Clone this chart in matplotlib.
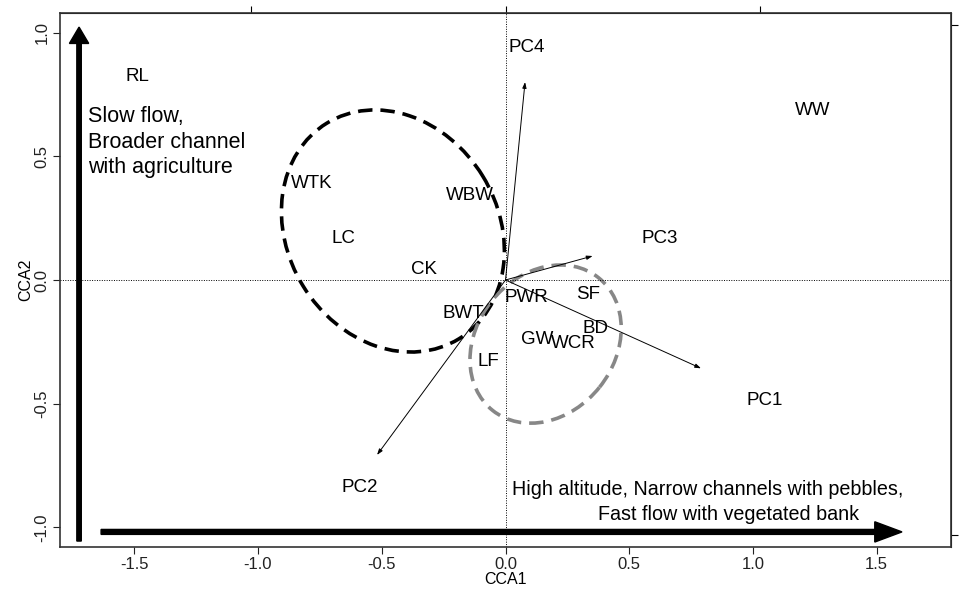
import matplotlib
matplotlib.use("Agg")
import matplotlib.pyplot as plt
from matplotlib.patches import Ellipse, FancyArrow

plt.rcParams['font.family'] = ['Liberation Sans', 'DejaVu Sans']

# Site scores (labels)
site_names = ["RL", "WW", "WTK", "WBW", "LC", "CK", "PWR", "SF", "BWT", "BD", "GW", "WCR", "LF"]
site_x = [-1.489, 1.242, -0.782, -0.144, -0.653, -0.329, 0.083, 0.333, -0.172, 0.362, 0.127, 0.273, -0.07]
site_y = [0.824, 0.683, 0.388, 0.343, 0.166, 0.044, -0.069, -0.057, -0.134, -0.198, -0.24, -0.255, -0.33]

# Environmental vectors
vec_names = ["PC1", "PC2", "PC3", "PC4"]
vec_x = [0.79, -0.519, 0.352, 0.079]
vec_y = [-0.357, -0.707, 0.097, 0.80]
vec_lab_x = [1.048, -0.588, 0.624, 0.087]
vec_lab_y = [-0.485, -0.84, 0.166, 0.941]

# Group ellipses: center x, center y, full width, full height, angle
ell_black = (-0.455, 0.198, 1.022, 0.851, 121.5)
ell_gray = (0.162, -0.259, 0.686, 0.558, 51.4)

xticks = [-1.5, -1.0, -0.5, 0.0, 0.5, 1.0, 1.5]
yticks = [-1.0, -0.5, 0.0, 0.5, 1.0]

left_note = ["Slow flow,", "Broader channel", "with agriculture"]
bottom_note = ["High altitude, Narrow channels with pebbles,", "Fast flow with vegetated bank"]

W, H = 959, 589
fig = plt.figure(figsize=(W / 100, H / 100), dpi=100)
ax = fig.add_axes([60 / W, (H - 547) / H, (951 - 60) / W, (547 - 13) / H])
ax.set_xlim(-1.80, 1.80)
ax.set_ylim(-1.079, 1.079)

# reference lines
ax.axhline(0, color='black', lw=0.7, ls=(0, (1, 1.5)))
ax.axvline(0, color='black', lw=0.7, ls=(0, (1, 1.5)))

# vectors
for x, y in zip(vec_x, vec_y):
    ax.annotate("", xy=(x, y), xytext=(0, 0),
                arrowprops=dict(arrowstyle="-|>,head_length=0.35,head_width=0.12",
                                color='black', lw=0.7, shrinkA=0, shrinkB=0))

# ellipses
cx, cy, w, h, a = ell_black
ax.add_patch(Ellipse((cx, cy), w, h, angle=a, fill=False, ec='black', lw=2.6,
                     ls=(0, (4, 2.2))))
cx, cy, w, h, a = ell_gray
ax.add_patch(Ellipse((cx, cy), w, h, angle=a, fill=False, ec='#878787', lw=2.6,
                     ls=(0, (4, 2.2))))

# labels
for n, x, y in zip(site_names, site_x, site_y):
    ax.text(x, y, n, ha='center', va='center', fontsize=13.5)
for n, x, y in zip(vec_names, vec_lab_x, vec_lab_y):
    ax.text(x, y, n, ha='center', va='center', fontsize=13.5)

# big gradient arrows
ax.add_patch(FancyArrow(-1.723, -1.055, 0, 2.077, width=0.018, head_width=0.078,
                        head_length=0.066, length_includes_head=True, color='black'))
ax.add_patch(FancyArrow(-1.634, -1.018, 3.236, 0, width=0.02, head_width=0.082,
                        head_length=0.11, length_includes_head=True, color='black'))

for txt, yy in zip(left_note, [0.659, 0.554, 0.453]):
    ax.text(-1.687, yy, txt, ha='left', va='center', fontsize=15.5)
for txt, xx, yy in zip(bottom_note, [0.818, 0.9], [-0.848, -0.949]):
    ax.text(xx, yy, txt, ha='center', va='center', fontsize=14.2)

ax.set_xticks(xticks)
ax.set_xticklabels([f"{t:.1f}" for t in xticks])
ax.set_yticks(yticks)
ax.set_yticklabels([f"{t:.1f}" for t in yticks], rotation=90, va='center')
ax.tick_params(direction='out', length=5, width=0.8, labelsize=12, colors='#222222', pad=2.5)
ax.set_xlabel("CCA1", fontsize=11.5, labelpad=0)
ax.set_ylabel("CCA2", fontsize=11.5, labelpad=1)
for s in ax.spines.values():
    s.set_linewidth(1.2)
    s.set_color('#333333')

k = 1.029
sx = ax.secondary_xaxis('top', functions=(lambda v: v / k, lambda v: v * k))
sx.set_xticks([-1, 0, 1])
sx.set_xticklabels([])
sx.tick_params(direction='out', length=5, width=0.8)
sy = ax.secondary_yaxis('right', functions=(lambda v: v / k, lambda v: v * k))
sy.set_yticks([-1, 1])
sy.set_yticklabels([])
sy.tick_params(direction='out', length=5, width=0.8)

fig.savefig("out.png", dpi=100)
